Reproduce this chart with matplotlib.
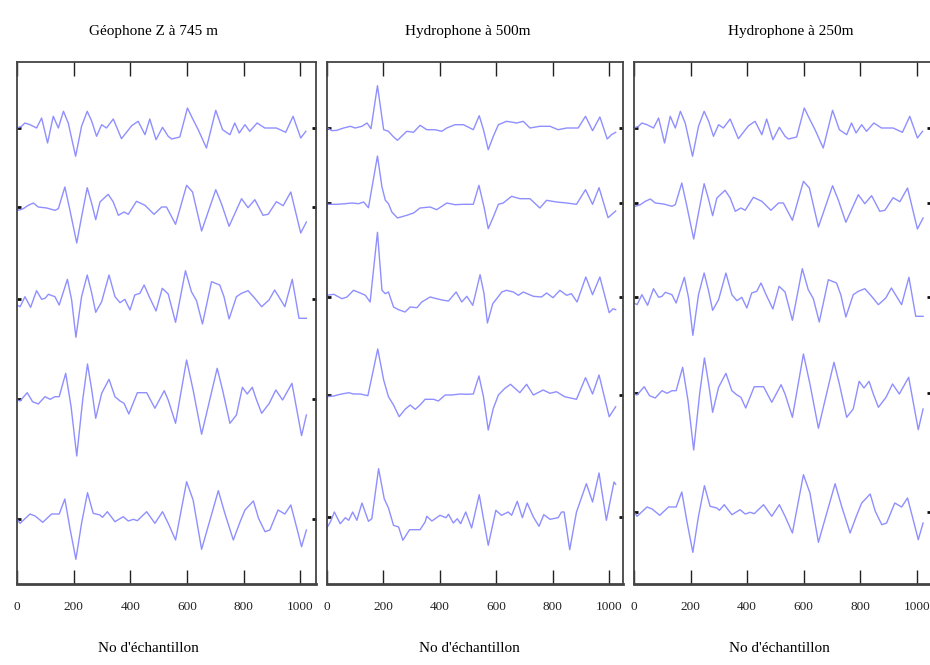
import matplotlib
matplotlib.use("Agg")
import matplotlib.pyplot as plt

# ---- Géophone Z à 745 m : five traces (sample index, amplitude) ----
geo_t1_x = [0, 16, 28, 46, 69, 87, 108, 128, 146, 164, 181, 207, 228, 248, 264, 281, 299, 316, 340, 369,
            405, 428, 452, 469, 491, 514, 534, 546, 575, 602, 622, 640, 669, 702, 726, 752, 769, 785, 805,
            822, 848, 875, 916, 949, 975, 1002, 1020]
geo_t1_y = [0, 1.7, 5, 3.3, 0, 10, -15, 11.7, 0, 16.7, 5, -28.3, 1.7, 16.7, 6.7, -8.3, 3.3, 0, 9, -10.7,
            2.3, 6.7, -6.7, 9, -11.7, 0.7, -8.3, -11, -9, 20, 8.3, -1.7, -20, 17.7, -1.7, -6.7, 5, -5, 3.3,
            -3.3, 5, 0, 0, -4.3, 11.7, -10, -3.3]

geo_t2_x = [0, 5, 22, 40, 58, 75, 105, 134, 146, 169, 187, 211, 228, 248, 264, 278, 293, 322, 340, 358,
            378, 393, 422, 452, 484, 511, 528, 560, 599, 620, 652, 702, 722, 749, 793, 816, 840, 869, 887,
            916, 940, 967, 1002, 1022]
geo_t2_y = [-1.7, -3.3, -1.7, 1.7, 4, 0, -1, -3.3, -1.7, 20, -3.3, -36, -10, 19.3, 3.3, -12.7, 5, 12.7, 5,
            -8.3, -5, -7.3, 5.7, 1.7, -7.3, 0, 0, -17.3, 21.7, 15, -24, 17.3, 3.3, -19.3, 8.3, -0.7, 7.3,
            -8.3, -7.3, 5.3, 1.3, 15, -26, -15]

geo_t3_x = [0, 11, 28, 48, 69, 87, 99, 111, 134, 149, 178, 193, 208, 228, 248, 264, 278, 299, 325, 346,
            364, 381, 399, 416, 434, 449, 467, 491, 513, 534, 560, 595, 616, 634, 655, 687, 716, 731, 749,
            775, 793, 816, 840, 864, 890, 910, 928, 946, 972, 996, 1022]
geo_t3_y = [-6, -7.7, 2.3, -8.3, 8.3, -0.3, 0.7, 4.7, 2.3, -6, 19.7, -1, -38.3, 2.3, 24, 5.7, -13.3, -2.7,
            24, 2.3, -3.7, -0.3, -11, 4, 5.7, 14, 2.3, -12, 10.7, 5, -23.3, 28.3, 7.3, -1.7, -25, 17.3, 14,
            2.3, -20, 2.3, 5.7, 8.3, 0.7, -7.7, -1, 9, 0.7, -7.7, 19.7, -19.3, -19.3]

geo_t4_x = [0, 11, 36, 55, 75, 99, 117, 134, 149, 172, 191, 211, 232, 249, 264, 278, 299, 325, 346, 364,
            378, 395, 425, 458, 487, 520, 534, 560, 599, 622, 652, 707, 726, 752, 775, 796, 813, 831, 846,
            864, 891, 914, 938, 971, 1005, 1022]
geo_t4_y = [-1, -2, 6.3, -2.7, -5, 2.3, -0.3, 2.3, 2.3, 25.7, -7.7, -57, -1, 35, 9, -19.3, 5.7, 19.7, 2.3,
            -2, -4.3, -15, 6.3, 6.3, -9.3, 8.3, -1, -24.3, 39, 9, -35.3, 30.7, 9, -24.3, -16, 11.7, 5, 11.7,
            -1, -14.3, -4.3, 9, -1, 15.7, -36.7, -16]

geo_t5_x = [0, 11, 46, 64, 91, 122, 149, 169, 187, 208, 228, 249, 269, 293, 302, 319, 346, 375, 393, 411,
            425, 458, 487, 514, 534, 560, 599, 622, 652, 711, 734, 764, 788, 805, 835, 853, 876, 893, 922,
            946, 967, 987, 1005, 1022]
geo_t5_y = [0, -4.3, 5, 3, -3.3, 5, 5, 20, -9.3, -40.3, -4.3, 26.3, 5.7, 4, 1.7, 7.3, -2.7, 2.3, -2, -0.3,
            -1.7, 7.3, -4.3, 7.3, -4.3, -21, 37.3, 19, -30.3, 28.3, 5.7, -21, -2.7, 9, 18, 0.7, -12.7, -11,
            9, 5, 14, -7.7, -27.7, -11]

# ---- Hydrophone à 500m ----
h500_t1_x = [0, 18, 35, 59, 83, 100, 124, 142, 156, 179, 201, 218, 234, 250, 283, 307, 330, 354, 383, 407,
             425, 454, 484, 519, 540, 555, 572, 590, 608, 637, 673, 696, 720, 755, 791, 820, 850, 891, 917,
             942, 968, 994, 1009, 1024]
h500_t1_y = [0, -2.7, -2.3, 0, 1.7, 0, 1.7, 5, -0.7, 42.3, -1.7, -3.3, -8.3, -12.3, -3.3, -4.3, 2.7, -1.7,
             -1.7, -3.3, 0, 3.3, 3.3, -1.7, 12.3, -1.7, -21.7, -8.3, 3.3, 6.7, 5, 6.7, 0, 1.7, 1.7, -1.7, 0,
             0, 11.7, -2.7, 11, -11, -6.7, -4.3]

h500_t2_x = [0, 35, 65, 89, 112, 130, 147, 179, 195, 207, 218, 230, 250, 283, 307, 330, 366, 389, 425, 454,
             484, 519, 539, 557, 572, 590, 608, 625, 655, 684, 720, 755, 779, 814, 850, 885, 917, 942, 965,
             997, 1024]
h500_t2_y = [-1.3, -1.3, -0.7, 0, -0.7, 1, -4.7, 47, 16, 2.7, -0.7, -9, -15, -12.3, -10, -5, -4, -6.7, 0,
             -1.7, -1.3, -1.3, 17.7, -4, -25.7, -14, -1.3, 0, 6.7, 4.3, 4.3, -5, 2.7, 1, 0, -1.3, 13.3, -1.3,
             15.3, -14.7, -8]

h500_t3_x = [0, 24, 53, 71, 94, 118, 136, 153, 179, 195, 207, 218, 236, 254, 277, 295, 319, 336, 366, 389,
             413, 431, 458, 478, 496, 517, 543, 557, 569, 588, 602, 620, 637, 661, 679, 696, 732, 761, 779,
             802, 826, 850, 867, 887, 918, 942, 968, 1001, 1015, 1024]
h500_t3_y = [1.7, 2.7, -1.7, 0, 6.7, 4, 1.7, -5, 64.7, 6.7, 3.3, 5, -10, -12.7, -15, -10, -10.7, -5, 0, -1.7,
             -3.3, -4, 5, -5, 0.7, -8.3, 22.3, 3.3, -26, -6.7, -1.7, 5, 6.7, 5, 1.7, 5, 0.7, 0, 4, -0.7, 6.7,
             1.7, 3.3, -5, 20, 2.3, 20, -15.7, -11.7, -12.7]

h500_t4_x = [0, 24, 47, 77, 94, 118, 145, 180, 201, 218, 236, 256, 277, 295, 313, 330, 348, 378, 395, 419,
             442, 472, 496, 519, 539, 555, 572, 590, 608, 631, 651, 684, 708, 732, 767, 791, 814, 843, 885,
             917, 942, 965, 1001, 1024]
h500_t4_y = [-1.7, -1, 0.7, 2.3, 1, 1, -0.7, 46, 15, -1.7, -10, -21.7, -14.3, -10, -14.3, -10, -4.3, -4.3,
             -6, 0, 0, 1, 0.7, 1, 19, -1.7, -35, -13.3, 0, 6.7, 10.7, 2.3, 10.7, 0, 5, 1.7, 3.3, -1.7, -4.3,
             17.3, 1, 20, -21.7, -11.7]

h500_t5_x = [0, 12, 26, 47, 65, 77, 91, 106, 124, 147, 159, 183, 203, 218, 236, 254, 269, 293, 330, 348,
             354, 372, 401, 422, 431, 448, 462, 474, 492, 513, 540, 555, 572, 590, 599, 619, 643, 655, 675,
             693, 710, 732, 752, 769, 791, 820, 832, 841, 861, 885, 920, 942, 965, 991, 1018, 1024]
h500_t5_y = [-10.7, -5, 5, -6.7, -0.7, -3.3, 5, -3.3, 14, -4.3, -1.7, 48.3, 18.3, 9, -8.3, -10, -23.3, -12.7,
             -12.7, -5, 0.7, -4, 1.7, -0.7, 2.7, -6, -1.7, -6.7, 5, -11, 22.3, -1.7, -28.3, -5, 6.7, 1.7, 5,
             1.7, 15.7, -0.7, 14, 0, -9.3, 2.3, -2.3, -0.7, 5, 5, -32.7, 5, 33.3, 15, 44, -3.3, 35, 32.7]

# ---- Hydrophone à 250m : same recorded traces as the geophone panel ----
h250_t1_x, h250_t1_y = geo_t1_x, geo_t1_y
h250_t2_x, h250_t2_y = geo_t2_x, geo_t2_y
h250_t3_x, h250_t3_y = geo_t3_x, geo_t3_y
h250_t4_x, h250_t4_y = geo_t4_x, geo_t4_y
h250_t5_x, h250_t5_y = geo_t5_x, geo_t5_y

# baseline level of each trace (top to bottom)
geo_levels = [456, 377, 285, 185, 65]
h500_levels = [456, 381, 287, 189, 67]
h250_levels = [456, 381, 287, 191, 72]

titles = ["Géophone Z à 745 m", "Hydrophone à 500m", "Hydrophone à 250m"]
xlabel = "No d'échantillon"
xticks = [0, 200, 400, 600, 800, 1000]

panels = [
    (titles[0], geo_levels,
     [(geo_t1_x, geo_t1_y), (geo_t2_x, geo_t2_y), (geo_t3_x, geo_t3_y), (geo_t4_x, geo_t4_y), (geo_t5_x, geo_t5_y)]),
    (titles[1], h500_levels,
     [(h500_t1_x, h500_t1_y), (h500_t2_x, h500_t2_y), (h500_t3_x, h500_t3_y), (h500_t4_x, h500_t4_y), (h500_t5_x, h500_t5_y)]),
    (titles[2], h250_levels,
     [(h250_t1_x, h250_t1_y), (h250_t2_x, h250_t2_y), (h250_t3_x, h250_t3_y), (h250_t4_x, h250_t4_y), (h250_t5_x, h250_t5_y)]),
]

W, H = 930, 665
fig = plt.figure(figsize=(W / 100, H / 100), dpi=100)
fig.patch.set_facecolor("white")

# axes boxes in pixels: left, width, xmax
boxes = [(17, 299, 1056), (327, 296, 1050), (634, 297, 1050)]
title_pos = [0.455, 0.476, 0.527]
label_pos = [0.44, 0.48, 0.49]
top, bottom = 62, 584
serif = ["Liberation Serif", "DejaVu Serif"]

for (title, levels, traces), (left, width, xmax), tx, lx in zip(panels, boxes, title_pos, label_pos):
    ax = fig.add_axes([left / W, 1 - bottom / H, width / W, (bottom - top) / H])
    for (sx, amp), lev in zip(traces, levels):
        ax.plot(sx, [lev + a for a in amp], color="#8f8fff", lw=1.0, solid_joinstyle="round")
    ax.set_xlim(0, xmax)
    ax.set_ylim(0, bottom - top)
    ax.set_xticks(xticks)
    ax.set_xticklabels([str(t) for t in xticks], fontfamily=serif, fontsize=9.5)
    ax.set_yticks(levels)
    ax.set_yticklabels([])
    ax.tick_params(axis="x", direction="in", length=10, width=1, top=True, pad=12, colors="#222222")
    ax.tick_params(axis="y", direction="in", length=3, width=2, right=True, colors="#111111")
    for s in ax.spines.values():
        s.set_color("#444444")
        s.set_linewidth(1.3)
    ax.spines["bottom"].set_linewidth(2)
    ax.text(tx, 1 + 31 / (bottom - top), title, transform=ax.transAxes, ha="center", va="center",
            fontfamily=serif, fontsize=11)
    ax.text(lx, -65 / (bottom - top), xlabel, transform=ax.transAxes, ha="center", va="center",
            fontfamily=serif, fontsize=11)

fig.savefig("out.png", dpi=100, facecolor="white")
